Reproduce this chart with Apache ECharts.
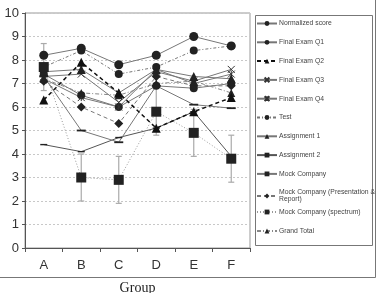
<!DOCTYPE html>
<html><head><meta charset="utf-8">
<script src="https://cdn.jsdelivr.net/npm/echarts@6/dist/echarts.min.js"></script>
<style>html,body{margin:0;padding:0;background:#fff}#c{width:379px;height:293px}</style>
</head><body><div id="c"></div>
<script>
var categories = ['A','B','C','D','E','F'];
var normalizedScore = [7.4, 6.5, 6.0, 6.9, 6.8, 7.0];
var finalExamQ1 = [8.2, 8.5, 7.8, 8.2, 9.0, 8.6];
var finalExamQ2 = [6.3, 7.9, 6.6, 5.1, 5.8, 6.4];
var finalExamQ3 = [7.3, 7.4, 6.2, 7.5, 7.1, 7.6];
var finalExamQ4 = [7.2, 6.4, 6.0, 7.6, 7.0, 7.4];
var testScore = [7.7, 8.4, 7.4, 7.7, 8.4, 8.6];
var assignment1 = [7.5, 7.6, 6.6, 7.6, 7.3, 7.2];
var assignment2 = [4.4, 4.1, 4.7, 5.1, 5.8, 3.9];
var mockCompany = [7.3, 5.0, 4.5, 6.9, 6.1, 5.95];
var mockPresentation = [7.1, 6.0, 5.3, 7.3, 6.9, 6.9];
var mockSpectrum = [7.7, 3.0, 2.9, 5.8, 4.9, 3.8];
var spectrumLow = [6.7, 2.0, 1.9, 4.8, 3.9, 2.8];
var spectrumHigh = [8.7, 4.0, 3.9, 6.8, 5.9, 4.8];
var grandTotal = [7.2, 6.6, 6.5, 7.0, 7.1, 6.6];
var yTicks = [0,1,2,3,4,5,6,7,8,9,10];

var FONT = 'Liberation Sans';
var X_PATH = 'path://M0,0L10,10M10,0L0,10';
var AST_PATH = 'path://M0,0L10,10M10,0L0,10M5,0L5,10';
var DASH_PATH = 'path://M0,0L10,0L10,2L0,2Z';

function ln(name, data, symbol, size, type, color, width, mcolor, z) {
  var s = {
    name: name, type: 'line', data: data, symbol: symbol, symbolSize: size, symbolKeepAspect: true,
    lineStyle: {color: color, width: width || 1, type: type},
    itemStyle: {color: mcolor || '#222', borderColor: mcolor || '#222', borderWidth: 0},
    z: z || 2, animation: false
  };
  if (symbol === X_PATH || symbol === AST_PATH) {
    s.itemStyle = {color: 'rgba(0,0,0,0)', borderColor: '#333', borderWidth: 1};
  }
  return s;
}

var series = [
  ln('Normalized score', normalizedScore, 'circle', 8, 'solid', '#777'),
  ln('Final Exam Q1', finalExamQ1, 'circle', 9, 'solid', '#777'),
  ln('Final Exam Q2', finalExamQ2, 'triangle', 9, [4,3], '#111', 1.5, '#111', 4),
  ln('Final Exam Q3', finalExamQ3, X_PATH, 7, 'solid', '#777'),
  ln('Final Exam Q4', finalExamQ4, AST_PATH, 7, 'solid', '#777'),
  ln('Test', testScore, 'circle', 8, [3,2,1,2], '#777'),
  ln('Assignment 1', assignment1, 'triangle', 9, 'solid', '#777'),
  ln('Assignment 2', assignment2, DASH_PATH, 7, 'solid', '#555'),
  ln('Mock Company', mockCompany, DASH_PATH, 9, 'solid', '#777'),
  ln('Mock Company (Presentation & Report)', mockPresentation, 'diamond', 9, [4,3], '#777'),
  ln('Mock Company (spectrum)', mockSpectrum, 'rect', 10, [1,2], '#999'),
  ln('Grand Total', grandTotal, 'triangle', 8, [4,2,1,2], '#888'),
  {
    type: 'custom', name: 'err', z: 1, animation: false,
    data: categories.map(function(c, i){ return [i, spectrumLow[i], spectrumHigh[i]]; }),
    renderItem: function(params, api) {
      var lo = api.coord([api.value(0), api.value(1)]);
      var hi = api.coord([api.value(0), api.value(2)]);
      var st = {stroke: '#aaa', lineWidth: 1.2};
      return {type: 'group', children: [
        {type: 'line', shape: {x1: lo[0], y1: lo[1], x2: hi[0], y2: hi[1]}, style: st},
        {type: 'line', shape: {x1: lo[0]-3, y1: lo[1], x2: lo[0]+3, y2: lo[1]}, style: st},
        {type: 'line', shape: {x1: hi[0]-3, y1: hi[1], x2: hi[0]+3, y2: hi[1]}, style: st}
      ]};
    }
  }
];

var names1 = ['Normalized score','Final Exam Q1','Final Exam Q2','Final Exam Q3','Final Exam Q4','Test','Assignment 1','Assignment 2','Mock Company'];
var names2 = ['Mock Company (Presentation & Report)'];
var names3 = ['Mock Company (spectrum)','Grand Total'];
function lg(data, top, gap) {
  return {
    data: data, orient: 'vertical', left: 256, top: top, itemWidth: 20, itemHeight: 6, itemGap: gap,
    selectedMode: false, padding: 0,
    textStyle: {fontFamily: FONT, fontSize: 6.8, color: '#444', lineHeight: 7, padding: [0,0,0,-3]},
    formatter: function(n){ return n === 'Mock Company (Presentation & Report)' ? 'Mock Company (Presentation &\nReport)' : n; }
  };
}

var chart = echarts.init(document.getElementById('c'), null, {renderer: 'canvas'});
chart.setOption({
  animation: false,
  grid: {left: 25, top: 13, right: 129, bottom: 45, show: true, borderColor: '#999', borderWidth: 1,
         containLabel: false, outerBoundsMode: 'none'},
  legend: [lg(names1, 20, 11.8), lg(names2, 189, 10), lg(names3, 208.5, 12)],
  xAxis: {
    type: 'category', data: categories, boundaryGap: true,
    axisLine: {lineStyle: {color: '#555', width: 1}},
    axisTick: {show: true, length: 4, lineStyle: {color: '#555'}},
    axisLabel: {fontFamily: FONT, fontSize: 13, color: '#333', margin: 11},
    name: 'Group', nameLocation: 'middle', nameGap: 33,
    nameTextStyle: {fontFamily: 'Liberation Serif', fontSize: 14, color: '#222'}
  },
  yAxis: {
    type: 'value', min: 0, max: 10, interval: 1,
    axisLine: {show: true, lineStyle: {color: '#555', width: 1}},
    axisTick: {show: true, length: 3, lineStyle: {color: '#555'}},
    axisLabel: {fontFamily: FONT, fontSize: 13, color: '#333', margin: 6,
      formatter: function(v){ return yTicks.indexOf(v) >= 0 ? String(v) : ''; }},
    splitLine: {show: true, lineStyle: {color: '#c8c8c8', type: [2,2], width: 1}}
  },
  graphic: [
    {type: 'rect', shape: {x: 255.5, y: 15.5, width: 117, height: 230}, style: {fill: 'none', stroke: '#777', lineWidth: 1}, silent: true},
    {type: 'line', shape: {x1: 375.5, y1: 0, x2: 375.5, y2: 277.5}, style: {stroke: '#777', lineWidth: 1}, silent: true},
    {type: 'line', shape: {x1: 0, y1: 277.5, x2: 375.5, y2: 277.5}, style: {stroke: '#777', lineWidth: 1}, silent: true}
  ],
  series: series
});
</script></body></html>
